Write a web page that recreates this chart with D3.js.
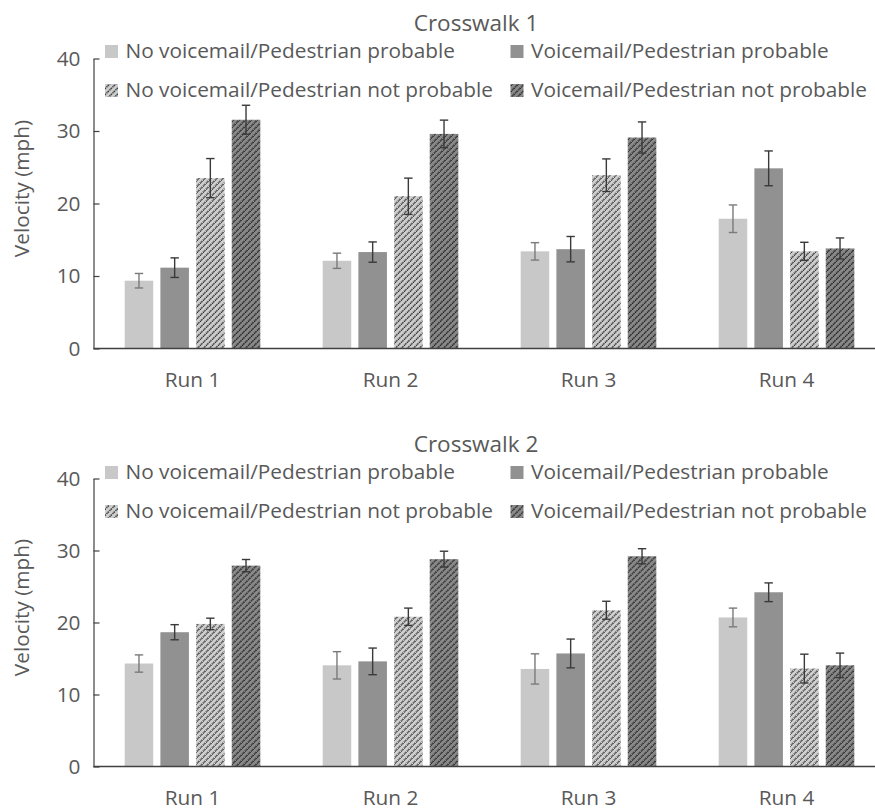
<!DOCTYPE html>
<html>
<head>
<meta charset="utf-8">
<script src="https://cdn.jsdelivr.net/npm/d3@7"></script>
<style>
  html, body { margin: 0; padding: 0; background: #ffffff; }
  svg { display: block; }
  text { font-family: "Open Sans", "Noto Sans", sans-serif; fill: #595959; }
</style>
</head>
<body>
<svg id="chart" width="875" height="809"></svg>
<script>
// ---- data ----
const runs = ["Run 1", "Run 2", "Run 3", "Run 4"];
const seriesNames = [
  "No voicemail/Pedestrian probable",
  "Voicemail/Pedestrian probable",
  "No voicemail/Pedestrian not probable",
  "Voicemail/Pedestrian not probable"
];
const chartTitles = ["Crosswalk 1", "Crosswalk 2"];
const yTicks = [0, 10, 20, 30, 40];
const yLabel = "Velocity (mph)";

// mean velocity per run (rows) and series (columns)
const cw1Means = [
  [9.35, 11.15, 23.5, 31.55],
  [12.1, 13.3, 21.0, 29.6],
  [13.4, 13.7, 23.9, 29.1],
  [17.9, 24.85, 13.4, 13.8]
];
const cw1Errors = [
  [1.0, 1.35, 2.7, 2.0],
  [1.05, 1.4, 2.5, 1.9],
  [1.2, 1.75, 2.25, 2.15],
  [1.9, 2.4, 1.25, 1.45]
];
const cw2Means = [
  [14.3, 18.65, 19.8, 27.9],
  [14.05, 14.6, 20.8, 28.8],
  [13.55, 15.7, 21.7, 29.2],
  [20.7, 24.2, 13.6, 14.05]
];
const cw2Errors = [
  [1.2, 1.05, 0.8, 0.85],
  [1.9, 1.85, 1.2, 1.1],
  [2.1, 2.0, 1.25, 1.05],
  [1.3, 1.3, 2.0, 1.7]
];

// ---- styles ----
const solidFill = ["#c8c8c8", "#919192"];
const errColor = ["#7a7a7a", "#3a3a3a", "#3a3a3a", "#3a3a3a"];

const svg = d3.select("#chart");
const defs = svg.append("defs");

function makePattern(id, bg, line) {
  const p = defs.append("pattern")
    .attr("id", id)
    .attr("patternUnits", "userSpaceOnUse")
    .attr("width", 4.25).attr("height", 4.25)
    .attr("patternTransform", "rotate(45)");
  p.append("rect").attr("width", 4.25).attr("height", 4.25).attr("fill", bg);
  p.append("line")
    .attr("x1", 1).attr("x2", 1).attr("y1", 0).attr("y2", 4.25)
    .attr("stroke", line).attr("stroke-width", 1.5)
    .attr("stroke-dasharray", "1.4 0.7");
}
makePattern("hatchLight", "#d0d0d0", "#2e2e2e");
makePattern("hatchDark", "#8a8a8a", "#1e1e1e");
const fills = [solidFill[0], solidFill[1], "url(#hatchLight)", "url(#hatchDark)"];

const fontSize = 20.8;

function drawChart(opts) {
  const { means, errors, title, top, bottom, dy } = opts;
  const g = svg.append("g");
  const left = 93.5;

  const y = d3.scaleLinear().domain([0, 40]).range([bottom, top]);
  const x0 = d3.scaleBand().domain(runs).range([left, left + 792]).paddingInner(0).paddingOuter(0);
  const x1 = d3.scaleBand().domain(d3.range(4)).range([31.2, x0.bandwidth() - 31.2]).paddingInner(0.2).paddingOuter(0);

  // title
  g.append("text")
    .attr("x", 476).attr("y", 30.5 + dy)
    .attr("text-anchor", "middle")
    .style("font-size", "22.5px")
    .text(title);

  // y axis
  const yAxis = d3.axisLeft(y).tickValues(yTicks).tickSizeInner(-6).tickSizeOuter(0).tickPadding(13);
  const ya = g.append("g").attr("transform", `translate(${left},0)`).call(yAxis);
  ya.select(".domain").attr("stroke", "#404040").attr("stroke-width", 1.2);
  ya.selectAll(".tick line").attr("stroke", "#404040").attr("stroke-width", 1.2);
  ya.selectAll(".tick text").style("font-size", fontSize + "px").style("font-family", "'Open Sans', sans-serif").attr("fill", "#595959");

  // y label
  g.append("text")
    .attr("transform", `translate(29,${y(20) - 15}) rotate(-90)`)
    .attr("text-anchor", "middle")
    .style("font-size", fontSize + "px")
    .text(yLabel);

  // bars
  const groups = g.selectAll(".run").data(runs).enter().append("g")
    .attr("transform", d => `translate(${x0(d)},0)`);
  groups.each(function (run, ri) {
    const gg = d3.select(this);
    means[ri].forEach((v, si) => {
      gg.append("rect")
        .attr("x", x1(si)).attr("width", x1.bandwidth())
        .attr("y", y(v)).attr("height", y(0) - y(v))
        .attr("fill", fills[si]);
    });
    means[ri].forEach((v, si) => {
      const cx = x1(si) + x1.bandwidth() / 2;
      const e = errors[ri][si];
      const eg = gg.append("g").attr("stroke", errColor[si]).attr("stroke-width", 1.4);
      eg.append("line").attr("x1", cx).attr("x2", cx).attr("y1", y(v + e)).attr("y2", y(v - e));
      eg.append("line").attr("x1", cx - 4.2).attr("x2", cx + 4.2).attr("y1", y(v + e)).attr("y2", y(v + e));
      eg.append("line").attr("x1", cx - 4.2).attr("x2", cx + 4.2).attr("y1", y(v - e)).attr("y2", y(v - e));
    });
  });

  // x baseline
  g.append("line")
    .attr("x1", left).attr("x2", 875).attr("y1", y(0)).attr("y2", y(0))
    .attr("stroke", "#404040").attr("stroke-width", 1.5);

  // run labels
  g.selectAll(".runlabel").data(runs).enter().append("text")
    .attr("x", d => x0(d) + x0.bandwidth() / 2)
    .attr("y", y(0) + 38)
    .attr("text-anchor", "middle")
    .style("font-size", fontSize + "px")
    .text(d => d);

  // legend
  const legendPos = [
    { x: 105, row: 0 }, { x: 510.5, row: 0 }, { x: 105, row: 1 }, { x: 510.5, row: 1 }
  ];
  seriesNames.forEach((name, si) => {
    const lp = legendPos[si];
    const by = (lp.row === 0 ? 57.5 : 96.5) + dy;
    g.append("rect")
      .attr("x", lp.x).attr("y", by - 12.5)
      .attr("width", 13).attr("height", 13)
      .attr("fill", fills[si]);
    g.append("text")
      .attr("x", lp.x + 20.5).attr("y", by)
      .style("font-size", fontSize + "px")
      .text(name);
  });
}

drawChart({ means: cw1Means, errors: cw1Errors, title: chartTitles[0], top: 58.5, bottom: 348.5, dy: 0 });
drawChart({ means: cw2Means, errors: cw2Errors, title: chartTitles[1], top: 478.5, bottom: 766.5, dy: 421 });
</script>
</body>
</html>
